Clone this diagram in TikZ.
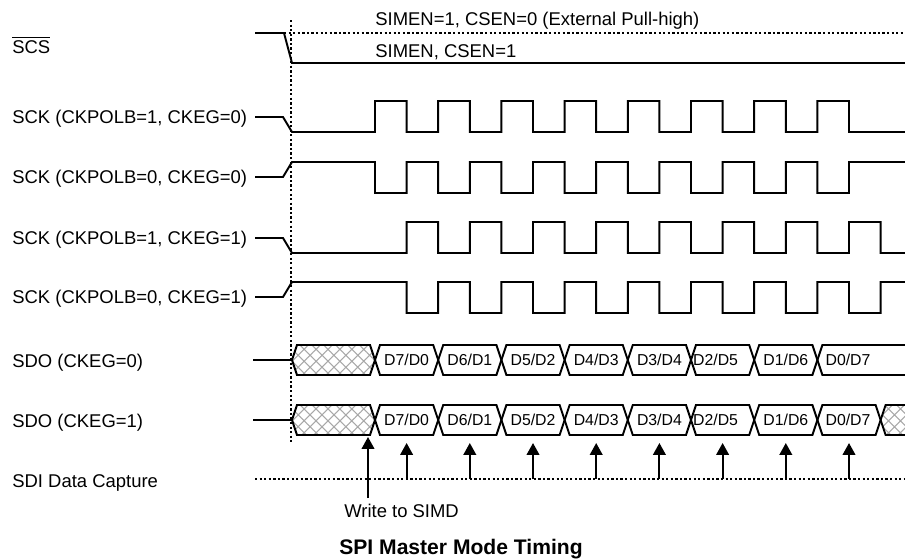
\documentclass[tikz,border=0pt]{standalone}
\usepackage{fontspec}
\setmainfont{Liberation Sans}
\usetikzlibrary{arrows.meta,patterns.meta}

\definecolor{wire}{HTML}{000000}
\definecolor{hatchgray}{HTML}{A8A8A8}

\tikzset{
  wave/.style={line width=1.1pt, line join=miter, wire},
  guide/.style={line width=0.9pt, dash pattern=on 1.3pt off 1.3pt, wire},
  sig/.style={anchor=base west, inner sep=0pt, font=\fontsize{10.5}{12.6}\selectfont},
  bit/.style={anchor=base, inner sep=0pt, font=\fontsize{9}{10.8}\selectfont},
  junk/.style={pattern={Hatch[angle=45,distance=4.8pt,line width=0.6pt]}, pattern color=hatchgray},
  capture/.style={line width=1.1pt, -{Triangle[width=7.2pt,length=6.8pt]}},
}

\begin{document}
\begin{tikzpicture}[x=0.02cm, y=-0.02cm]
\useasboundingbox (0,0) rectangle (905,558);
\def\per{63.2}
\def\hp{31.6}

% Signal names
\node[sig] (scs) at (12,53) {$\overline{\mbox{SCS}}$};
\node[sig] (sckA) at (12,123.5) {SCK (CKPOLB=1, CKEG=0)};
\node[sig] (sckB) at (12,183.5) {SCK (CKPOLB=0, CKEG=0)};
\node[sig] (sckC) at (12,244.5) {SCK (CKPOLB=1, CKEG=1)};
\node[sig] (sckD) at (12,303.5) {SCK (CKPOLB=0, CKEG=1)};
\node[sig] (sdoA) at (12,367) {SDO (CKEG=0)};
\node[sig] (sdoB) at (12,427) {SDO (CKEG=1)};
\node[sig] (sdi) at (12,487) {SDI Data Capture};

% Start of transfer
\draw[guide] (291,20) -- (291,442);

% Chip select
\draw[wave] (255,33) -- (284,33) -- (292,63) -- (905,63);
\draw[guide] (284,33) -- (905,33);
\node[sig] (pullhi) at (375,25) {SIMEN=1, CSEN=0 (External Pull-high)};
\node[sig] (csen) at (375,57) {SIMEN, CSEN=1};

% Clocks
\draw[wave] (255,117) -- (283,117) -- (292,132)
  \foreach \k in {0,...,7} { -- ({375+\per*\k},132) -- ++(0,-31) -- ++(\hp,0) -- ++(0,31) } -- (905,132);
\draw[wave] (255,177) -- (283,177) -- (292,162)
  \foreach \k in {0,...,7} { -- ({375+\per*\k},162) -- ++(0,31) -- ++(\hp,0) -- ++(0,-31) } -- (905,162);
\draw[wave] (255,238) -- (283,238) -- (292,253)
  \foreach \k in {0,...,7} { -- ({375+\hp+\per*\k},253) -- ++(0,-31) -- ++(\hp,0) -- ++(0,31) } -- (905,253);
\draw[wave] (255,297) -- (283,297) -- (292,282)
  \foreach \k in {0,...,7} { -- ({375+\hp+\per*\k},282) -- ++(0,31) -- ++(\hp,0) -- ++(0,-31) } -- (905,282);

% Data out
\foreach \row/\nm in {360/sdoa, 420/sdob} {
  \draw[wave] (253,\row) -- (292,\row);
  \draw[wave, junk] (292,\row) -- (297,\row-15) -- (370,\row-15) -- (375,\row) -- (370,\row+15) -- (297,\row+15) -- cycle;
  \foreach \k in {0,...,6}
    \draw[wave] ({375+\per*\k},\row) -- ++(5,-15) -- ++(\per-10,0) -- ++(5,15) -- ++(-5,15) -- ++(-\per+10,0) -- cycle;
  \foreach \hi/\lo/\dx [count=\k from 0] in {7/0/0, 6/1/0, 5/2/0, 4/3/0, 3/4/0, 2/5/-7, 1/6/0, 0/7/-1}
    \node[bit] (\nm\k) at ({375+\per*\k+\hp+\dx},\row+5.7) {D\hi/D\lo};
}
\draw[wave] (905,345) -- (822.4,345) -- (817.4,360) -- (822.4,375) -- (905,375);
\draw[wave] ({375+\per*7},420) -- ++(5,-15) -- ++(\per-10,0) -- ++(5,15) -- ++(-5,15) -- ++(-\per+10,0) -- cycle;
\fill[junk] (880.6,420) -- (885.6,405) -- (905,405) -- (905,435) -- (885.6,435) -- cycle;
\draw[wave] (905,405) -- (885.6,405) -- (880.6,420) -- (885.6,435) -- (905,435);

% Data capture
\draw[guide] (255,479) -- (905,479);
\foreach \k in {0,...,7} {
  \coordinate (cap\k) at ({375+\hp+\per*\k},479);
  \coordinate (tip\k) at ({375+\hp+\per*\k},443);
  \draw[capture] (cap\k) -- (tip\k);
}
\coordinate (wrfoot) at (368,498);
\coordinate (wrtip) at (368,437);
\draw[capture] (wrfoot) -- (wrtip);
\node[sig] (wrnote) at (344,517) {Write to SIMD};

% Title
\node[anchor=base, inner sep=0pt, font=\bfseries\fontsize{12}{14.4}\selectfont] (title) at (461,554) {SPI Master Mode Timing};

\end{tikzpicture}
\end{document}
